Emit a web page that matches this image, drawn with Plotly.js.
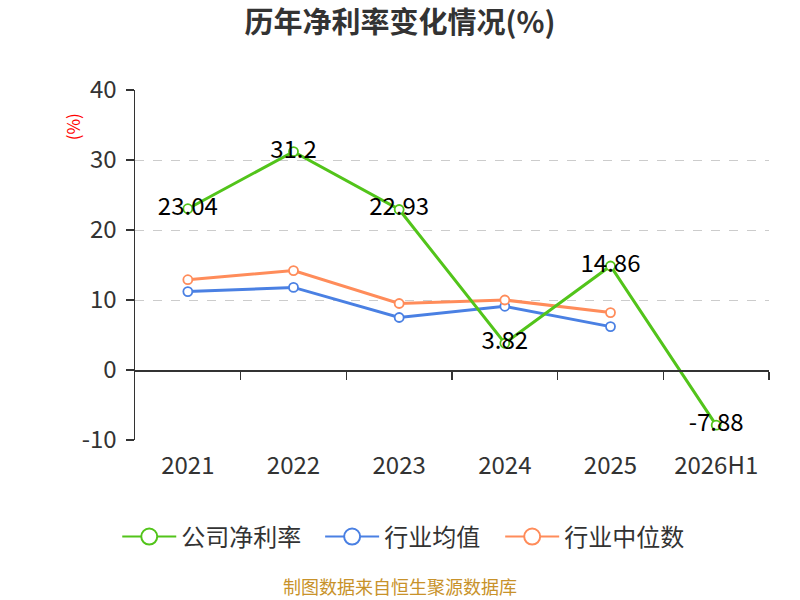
<!DOCTYPE html>
<html>
<head>
<meta charset="utf-8">
<script src="https://cdn.plot.ly/plotly-3.0.1.min.js"></script>
<style>
  html, body { margin: 0; padding: 0; background: #fff; }
  #chart { width: 800px; height: 600px; }
</style>
</head>
<body>
<div id="chart"></div>
<script>
// data
var years = ['2021', '2022', '2023', '2024', '2025', '2026H1'];
var companyMargin = [23.04, 31.2, 22.93, 3.82, 14.86, -7.88];
var industryAvg = [11.2, 11.8, 7.5, 9.1, 6.2, null];
var industryMedian = [12.9, 14.2, 9.5, 10.0, 8.2, null];
var yTicks = [-10, 0, 10, 20, 30, 40];
var boundaryTicks = [0.5, 1.5, 2.5, 3.5, 4.5, 5.5];

var FONT = '"Noto Sans CJK SC", "Noto Sans", sans-serif';
var GREEN = '#52c41a', BLUE = '#4a80e3', ORANGE = '#ff8c5a';

function series(name, y, color, withText) {
  var t = {
    x: years,
    y: y,
    name: name,
    type: 'scatter',
    mode: withText ? 'lines+markers+text' : 'lines+markers',
    line: {color: color, width: 3},
    marker: {symbol: 'circle', size: 9, color: '#fff', line: {color: color, width: 1.8}},
    hoverinfo: 'skip',
    showlegend: false,
    cliponaxis: false
  };
  if (withText) {
    t.text = y.map(function (v) { return String(v); });
    t.textposition = 'middle center';
    t.textfont = {family: FONT, size: 24, color: '#000'};
  }
  return t;
}

// legend-only entries (one legend each), so symbols can be larger and spacing follows the picture
function legendEntry(name, color, legendId) {
  return {
    x: [null], y: [null],
    name: name,
    type: 'scatter',
    mode: 'lines+markers',
    line: {color: color, width: 2},
    marker: {symbol: 'circle', size: 16, color: '#fff', line: {color: color, width: 2}},
    hoverinfo: 'skip',
    legend: legendId
  };
}

function legendBox(x) {
  return {
    orientation: 'h',
    x: x, xanchor: 'left',
    y: -0.277, yanchor: 'middle',
    font: {family: FONT, size: 24, color: '#333'},
    itemwidth: 54,
    bgcolor: 'rgba(0,0,0,0)'
  };
}

// helper so the zero-line axis with boundary ticks gets drawn
var axisHelper = {
  x: [], y: [], xaxis: 'x2', yaxis: 'y',
  type: 'scatter', mode: 'markers', showlegend: false, hoverinfo: 'skip'
};

var data = [
  series('行业均值', industryAvg, BLUE, false),
  series('行业中位数', industryMedian, ORANGE, false),
  series('公司净利率', companyMargin, GREEN, true),
  legendEntry('公司净利率', GREEN, 'legend'),
  legendEntry('行业均值', BLUE, 'legend2'),
  legendEntry('行业中位数', ORANGE, 'legend3'),
  axisHelper
];

var layout = {
  width: 800,
  height: 600,
  margin: {l: 135, r: 31, t: 90, b: 160},
  paper_bgcolor: '#fff',
  plot_bgcolor: '#fff',
  font: {family: FONT, color: '#333'},
  title: {
    text: '<b>历年净利率变化情况(%)</b>',
    font: {family: FONT, size: 29, color: '#333'},
    x: 0.5, xanchor: 'center',
    y: 0.962, yanchor: 'middle'
  },
  xaxis: {
    type: 'category',
    range: [-0.5, 5.5],
    showline: false,
    showgrid: false,
    zeroline: false,
    ticks: '',
    tickfont: {family: FONT, size: 24, color: '#333'},
    ticklabelstandoff: 9,
    fixedrange: true
  },
  xaxis2: {
    overlaying: 'x',
    anchor: 'free',
    position: 0.2,
    range: [-0.5, 5.5],
    tickmode: 'array',
    tickvals: boundaryTicks,
    showticklabels: false,
    ticks: 'outside',
    ticklen: 8,
    tickwidth: 1.5,
    tickcolor: '#333',
    showline: true,
    linecolor: '#333',
    linewidth: 1.5,
    showgrid: false,
    zeroline: false,
    fixedrange: true
  },
  yaxis: {
    range: [-10, 40],
    tickmode: 'array',
    tickvals: yTicks,
    ticktext: yTicks.map(function (v) { return String(v); }),
    showline: true,
    linecolor: '#333',
    linewidth: 1.5,
    ticks: 'outside',
    ticklen: 8,
    tickwidth: 1.5,
    tickcolor: '#333',
    tickfont: {family: FONT, size: 24, color: '#333'},
    ticklabelstandoff: 4,
    showgrid: true,
    gridcolor: '#cccccc',
    griddash: 'dash',
    gridwidth: 1,
    zeroline: false,
    fixedrange: true
  },
  showlegend: true,
  legend: legendBox(-0.028),
  legend2: legendBox(0.292),
  legend3: legendBox(0.576),
  annotations: [
    {
      text: '(%)',
      xref: 'paper', yref: 'paper',
      x: -0.099, y: 0.894,
      xanchor: 'center', yanchor: 'middle',
      textangle: -90,
      showarrow: false,
      font: {family: FONT, size: 17, color: '#ff0000'}
    },
    {
      text: '制图数据来自恒生聚源数据库',
      xref: 'paper', yref: 'paper',
      x: 0.418, y: -0.417,
      xanchor: 'center', yanchor: 'middle',
      showarrow: false,
      font: {family: FONT, size: 18, color: '#c8922a'}
    }
  ]
};

Plotly.newPlot('chart', data, layout, {staticPlot: true, displayModeBar: false});
</script>
</body>
</html>
